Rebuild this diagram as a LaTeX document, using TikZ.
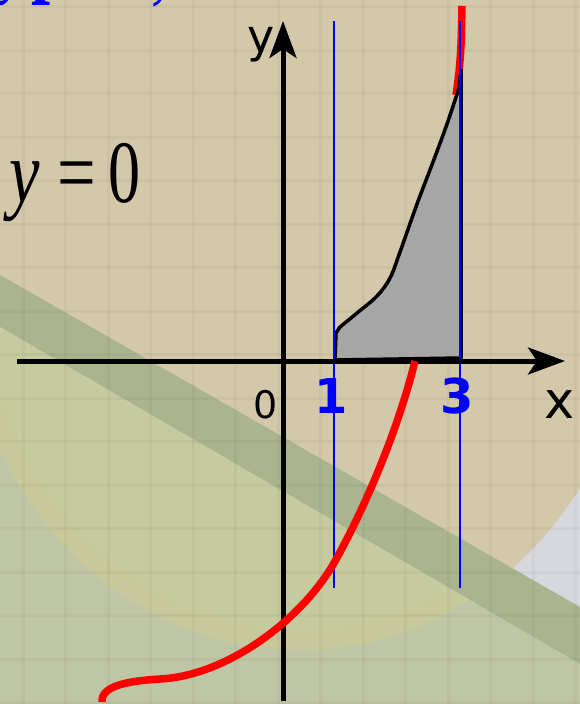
\documentclass[tikz,border=0pt]{standalone}
\usepackage{fontspec}
\setmainfont{Liberation Serif}
\newfontfamily\lblfont{DejaVu Sans}
\usetikzlibrary{arrows.meta}
\definecolor{bgbeige}{HTML}{D3C8A9}
\definecolor{bglav}{HTML}{D7D7DE}
\definecolor{bgband}{HTML}{AAB48F}
\definecolor{bgin}{HTML}{C6CA9F}
\definecolor{bgout}{HTML}{BFC6A6}
\definecolor{bgrim}{HTML}{C9C892}
\definecolor{areagray}{HTML}{A6A6A6}
\begin{document}
\begin{tikzpicture}[x=1pt,y=-1pt,
  axis/.style={line width=5pt,-{Stealth[length=37pt,width=27pt,inset=9pt]}},
  guide/.style={draw=blue,line width=1.8pt},
  curvered/.style={draw=red,line width=7.5pt},
  axlabel/.style={font=\lblfont\fontsize{48}{48}\selectfont,anchor=base,inner sep=0pt},
  ticklabel/.style={font=\lblfont\bfseries\fontsize{48}{48}\selectfont,text=blue,anchor=base,inner sep=0pt},
  bigserif/.style={font=\fontsize{89}{89}\selectfont,anchor=base,inner sep=0pt}]
\useasboundingbox (0,0) rectangle (580,704);
\clip (0,0) rectangle (580,704);
% background
\fill[bglav] (0,0) rectangle (580,704);
\fill[bgbeige] (300,290) ellipse [x radius=335pt, y radius=360pt];
\fill[bgbeige] (0,0) rectangle (580,300);
\fill[bgband] (0,275) -- (580,607) -- (580,704) -- (0,704) -- cycle;
\fill[bgout] (0,327) -- (580,664) -- (580,704) -- (0,704) -- cycle;
\begin{scope}
  \clip (0,327) -- (580,664) -- (580,704) -- (0,704) -- cycle;
  \clip (300,290) ellipse [x radius=335pt, y radius=360pt];
  \fill[bgin] (0,0) rectangle (580,704);
  \draw[bgrim,line width=40pt,opacity=0.35] (300,290) ellipse [x radius=335pt, y radius=360pt];
\end{scope}
% faint grid
\foreach \k in {0,...,13} {
  \draw[black,opacity=0.03,line width=3pt] (23+42.5*\k,0) -- (23+42.5*\k,704);
}
\foreach \k in {0,...,16} {
  \draw[black,opacity=0.03,line width=3pt] (0,6.5+43.5*\k) -- (580,6.5+43.5*\k);
}
% blue fragments at top
\node[bigserif,text=blue] (f1) at (17,-13) {\scalebox{0.77}[1]{\itshape y}};
\node[bigserif,text=blue] (f2) at (51,-13) {\scalebox{0.77}[1]{\bfseries p}};
\node[bigserif,text=blue] (f3) at (160,-6) {\scalebox{0.77}[1]{\itshape ,}};
% y = 0
\node[bigserif] (eqy) at (25,202) {\scalebox{0.77}[1]{\itshape y}};
\node[bigserif] (eqs) at (77,202) {\scalebox{0.77}[1]{=}};
\node[bigserif] (eqz) at (125,202) {\scalebox{0.72}[1]{0}};
% upper red piece
\draw[curvered] plot[smooth] coordinates {(462,6) (461,45) (459,72) (456,95)};
% shaded area
\filldraw[fill=areagray,draw=black,line width=3.5pt,line join=round]
  (335,360) -- (336,333) -- plot[smooth,tension=0.6] coordinates {(340,327) (357,313) (377,296) (390,278) (400,252) (417,204) (433,162) (447,124) (459,88)}
  -- (461,70) -- (461,358) -- cycle;
% blue guide lines
\coordinate (g1t) at (334,21); \coordinate (g1b) at (334,588);
\coordinate (g3t) at (460,21); \coordinate (g3b) at (460,588);
\draw[guide] (g1t) -- (g1b);
\draw[guide] (g3t) -- (g3b);
% axes
\coordinate (xs) at (17,361); \coordinate (xe) at (565,361);
\coordinate (ys) at (283,701); \coordinate (ye) at (283,21);
\draw[axis] (xs) -- (xe);
\draw[axis] (ys) -- (ye);
% lower red curve
\draw[curvered] (102,702) .. controls (101,686) and (127,681) .. (160,679)
  .. controls (225,676) and (300,622) .. (334,563)
  .. controls (365,508) and (398,430) .. (415,361);
% labels
\node[axlabel,font=\lblfont\fontsize{46}{46}\selectfont] (ly) at (261,52) {y};
\node[axlabel,font=\lblfont\fontsize{51}{51}\selectfont] (lx) at (560,418) {x};
\node[axlabel,font=\lblfont\fontsize{38}{38}\selectfont] (l0) at (266,418) {0};
\node[ticklabel] (l1) at (331,413) {1};
\node[ticklabel] (l3) at (457,413) {3};
\end{tikzpicture}
\end{document}
